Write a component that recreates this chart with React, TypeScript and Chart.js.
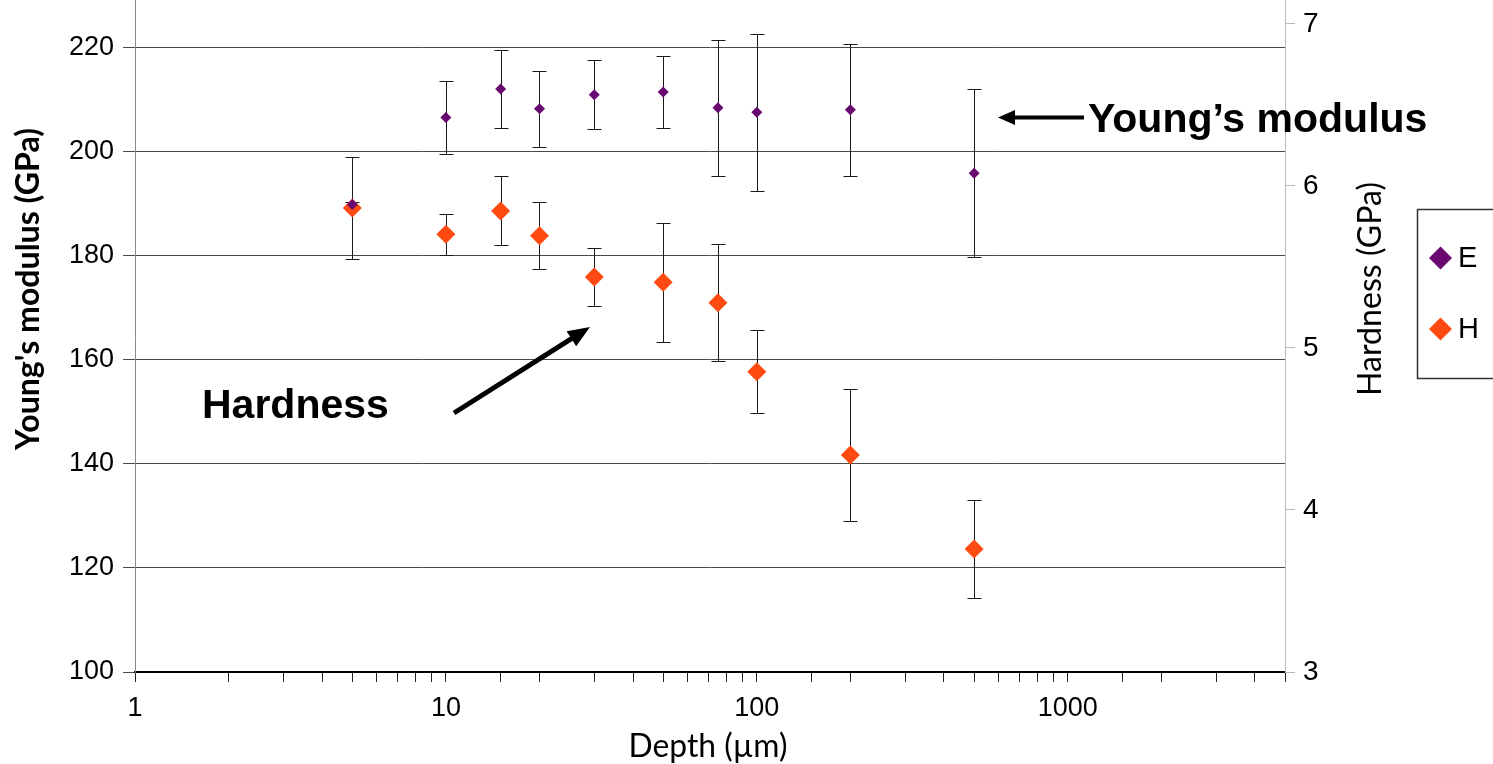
import { useEffect, useRef } from 'react';
import { Chart, registerables } from 'chart.js';

Chart.register(...registerables);

// ---- data ----
const DEPTH = [5, 10, 15, 20, 30, 50, 75, 100, 200, 500];
const E_VALUES = [189.9, 206.6, 212.1, 208.3, 211.0, 211.5, 208.5, 207.6, 208.1, 195.9];
const E_ERRORS = [0.5, 7.1, 7.5, 7.3, 6.6, 7.0, 13.1, 15.1, 12.7, 16.1];
const H_VALUES = [5.864, 5.702, 5.846, 5.693, 5.438, 5.406, 5.28, 4.854, 4.34, 3.759];
const H_ERRORS = [0.315, 0.128, 0.213, 0.207, 0.181, 0.367, 0.362, 0.255, 0.407, 0.302];
const E_TICKS = [100, 120, 140, 160, 180, 200, 220];
const H_TICKS = [3, 4, 5, 6, 7];
const X_LABELS = [1, 10, 100, 1000];
const X_RANGE = [1, 5000];
const E_RANGE = [100, 229.2];
const H_RANGE = [3, 7.148];
const SERIES_NAMES = ['E', 'H'];

const E_COLOR = '#680870';
const H_COLOR = '#FF4B12';
const TICK_FONT = "'Liberation Sans', Arial, sans-serif";
const TITLE_FONT = "Lato, 'Liberation Sans', sans-serif";

function fitFont(ctx: CanvasRenderingContext2D, text: string, weight: string, family: string, target: number) {
  ctx.font = `${weight} 30px ${family}`;
  const w = ctx.measureText(text).width;
  const size = (30 * target) / w;
  return `${weight} ${size.toFixed(2)}px ${family}`;
}

function arrow(ctx: CanvasRenderingContext2D, x0: number, y0: number, x1: number, y1: number, lw: number, headLen: number, headHalf: number) {
  const ang = Math.atan2(y1 - y0, x1 - x0);
  const bx = x1 - Math.cos(ang) * headLen;
  const by = y1 - Math.sin(ang) * headLen;
  ctx.save();
  ctx.strokeStyle = '#000';
  ctx.fillStyle = '#000';
  ctx.lineWidth = lw;
  ctx.beginPath();
  ctx.moveTo(x0, y0);
  ctx.lineTo(bx + Math.cos(ang) * 2, by + Math.sin(ang) * 2);
  ctx.stroke();
  ctx.beginPath();
  ctx.moveTo(x1, y1);
  ctx.lineTo(bx + Math.cos(ang + Math.PI / 2) * headHalf, by + Math.sin(ang + Math.PI / 2) * headHalf);
  ctx.lineTo(bx + Math.cos(ang - Math.PI / 2) * headHalf, by + Math.sin(ang - Math.PI / 2) * headHalf);
  ctx.closePath();
  ctx.fill();
  ctx.restore();
}

const errorBarPlugin = {
  id: 'errorBars',
  beforeDatasetsDraw(chart: any) {
    const ctx = chart.ctx as CanvasRenderingContext2D;
    const sets = [
      { vals: E_VALUES, errs: E_ERRORS, axis: 'y' },
      { vals: H_VALUES, errs: H_ERRORS, axis: 'y1' },
    ];
    ctx.save();
    ctx.strokeStyle = '#1a1a1a';
    ctx.lineWidth = 1;
    sets.forEach((s, i) => {
      const meta = chart.getDatasetMeta(i);
      const ys = chart.scales[s.axis];
      s.vals.forEach((v, j) => {
        const el = meta.data[j];
        if (!el) return;
        const x = Math.round(el.x) + 0.5;
        const yt = Math.round(ys.getPixelForValue(v + s.errs[j])) + 0.5;
        const yb = Math.round(ys.getPixelForValue(v - s.errs[j])) + 0.5;
        ctx.beginPath();
        ctx.moveTo(x, yt);
        ctx.lineTo(x, yb);
        ctx.moveTo(x - 7, yt);
        ctx.lineTo(x + 7, yt);
        ctx.moveTo(x - 7, yb);
        ctx.lineTo(x + 7, yb);
        ctx.stroke();
      });
    });
    ctx.restore();
  },
};

const decorPlugin = {
  id: 'decor',
  afterDraw(chart: any) {
    const ctx = chart.ctx as CanvasRenderingContext2D;
    ctx.save();
    ctx.fillStyle = '#000';

    // axis titles
    ctx.textAlign = 'center';
    ctx.textBaseline = 'alphabetic';
    const xt = 'Depth (µm)';
    ctx.font = fitFont(ctx, xt, 'normal', TITLE_FONT, 159);
    ctx.fillText(xt, 708, 757);

    const lt = "Young's modulus (GPa)";
    ctx.save();
    ctx.translate(39, 289);
    ctx.rotate(-Math.PI / 2);
    ctx.font = fitFont(ctx, lt, 'bold', TITLE_FONT, 322);
    ctx.fillText(lt, 0, 0);
    ctx.restore();

    const rt = 'Hardness (GPa)';
    ctx.save();
    ctx.translate(1381, 289);
    ctx.rotate(-Math.PI / 2);
    ctx.font = fitFont(ctx, rt, 'normal', TITLE_FONT, 214);
    ctx.fillText(rt, 0, 0);
    ctx.restore();

    // annotations
    ctx.textAlign = 'left';
    ctx.font = `bold 41px ${TICK_FONT}`;
    ctx.fillText('Young’s modulus', 1088, 132);
    ctx.fillText('Hardness', 202, 418);
    arrow(ctx, 1084, 117.5, 998, 117.5, 4, 17, 7.5);
    arrow(ctx, 454, 413, 590, 327, 5, 22, 9);

    // legend
    ctx.strokeStyle = '#333';
    ctx.lineWidth = 1.5;
    ctx.strokeRect(1417.5, 209.5, 110, 169);
    const items = [
      { name: SERIES_NAMES[0], color: E_COLOR, y: 258 },
      { name: SERIES_NAMES[1], color: H_COLOR, y: 329 },
    ];
    ctx.font = `29px ${TICK_FONT}`;
    ctx.textBaseline = 'middle';
    items.forEach((it) => {
      ctx.fillStyle = it.color;
      ctx.beginPath();
      ctx.moveTo(1440.5, it.y - 11.5);
      ctx.lineTo(1452, it.y);
      ctx.lineTo(1440.5, it.y + 11.5);
      ctx.lineTo(1429, it.y);
      ctx.closePath();
      ctx.fill();
      ctx.fillStyle = '#000';
      ctx.fillText(it.name, 1458, it.y + 1);
    });
    ctx.restore();
  },
};

export default function App() {
  const ref = useRef<HTMLCanvasElement | null>(null);

  useEffect(() => {
    document.body.style.margin = '0';
    const canvas = ref.current;
    if (!canvas) return;
    const isDecade = (v: number) => {
      const l = Math.log10(v);
      return Math.abs(l - Math.round(l)) < 1e-9 && X_LABELS.includes(Math.round(v));
    };
    const chart = new Chart(canvas, {
      type: 'scatter',
      data: {
        datasets: [
          {
            label: SERIES_NAMES[0],
            data: DEPTH.map((d, i) => ({ x: d, y: E_VALUES[i] })),
            yAxisID: 'y',
            pointStyle: 'rectRot',
            pointRadius: 5.5,
            pointHoverRadius: 5.5,
            backgroundColor: E_COLOR,
            borderColor: E_COLOR,
            borderWidth: 0,
            showLine: false,
          },
          {
            label: SERIES_NAMES[1],
            data: DEPTH.map((d, i) => ({ x: d, y: H_VALUES[i] })),
            yAxisID: 'y1',
            pointStyle: 'rectRot',
            pointRadius: 9.5,
            pointHoverRadius: 9.5,
            backgroundColor: H_COLOR,
            borderColor: H_COLOR,
            borderWidth: 0,
            showLine: false,
          },
        ],
      },
      options: {
        responsive: false,
        animation: false,
        devicePixelRatio: 1,
        layout: { padding: 0, autoPadding: false },
        plugins: {
          legend: { display: false },
          tooltip: { enabled: false },
          title: { display: false },
        },
        events: [],
        scales: {
          x: {
            type: 'logarithmic',
            position: 'bottom',
            min: X_RANGE[0],
            max: X_RANGE[1],
            grid: { drawOnChartArea: false, drawTicks: true, tickLength: 10, color: '#222', lineWidth: 1 },
            border: { display: true, color: '#000', width: 2 },
            ticks: {
              autoSkip: false,
              maxRotation: 0,
              padding: 10,
              color: '#000',
              font: { family: TICK_FONT, size: 27 },
              callback: (v: any) => (isDecade(Number(v)) ? String(Math.round(Number(v))) : ''),
            },
            afterFit: (s: any) => {
              s.height = 92;
              s.paddingLeft = 0;
              s.paddingRight = 0;
            },
          },
          y: {
            type: 'linear',
            position: 'left',
            min: E_RANGE[0],
            max: E_RANGE[1],
            grid: { drawOnChartArea: true, drawTicks: true, tickLength: 12, color: '#4a4a4a', lineWidth: 1 },
            border: { display: true, color: '#888', width: 1 },
            ticks: { padding: 9, color: '#000', font: { family: TICK_FONT, size: 27 } },
            afterBuildTicks: (s: any) => {
              s.ticks = E_TICKS.map((v) => ({ value: v }));
            },
            afterFit: (s: any) => {
              s.width = 135;
              s.paddingTop = 0;
              s.paddingBottom = 0;
            },
          },
          y1: {
            type: 'linear',
            position: 'right',
            min: H_RANGE[0],
            max: H_RANGE[1],
            grid: { drawOnChartArea: false, drawTicks: true, tickLength: 10, color: '#bbb', lineWidth: 1 },
            border: { display: true, color: '#bbb', width: 1 },
            ticks: { padding: 8, color: '#000', font: { family: TICK_FONT, size: 28 } },
            afterBuildTicks: (s: any) => {
              s.ticks = H_TICKS.map((v) => ({ value: v }));
            },
            afterFit: (s: any) => {
              s.width = 208;
              s.paddingTop = 0;
              s.paddingBottom = 0;
            },
          },
        },
      },
      plugins: [errorBarPlugin, decorPlugin],
    } as any);
    return () => chart.destroy();
  }, []);

  return (
    <div style={{ position: 'fixed', left: 0, top: 0, width: 1493, height: 764, background: '#fff' }}>
      <canvas ref={ref} width={1493} height={764} style={{ width: 1493, height: 764, display: 'block' }} />
    </div>
  );
}
